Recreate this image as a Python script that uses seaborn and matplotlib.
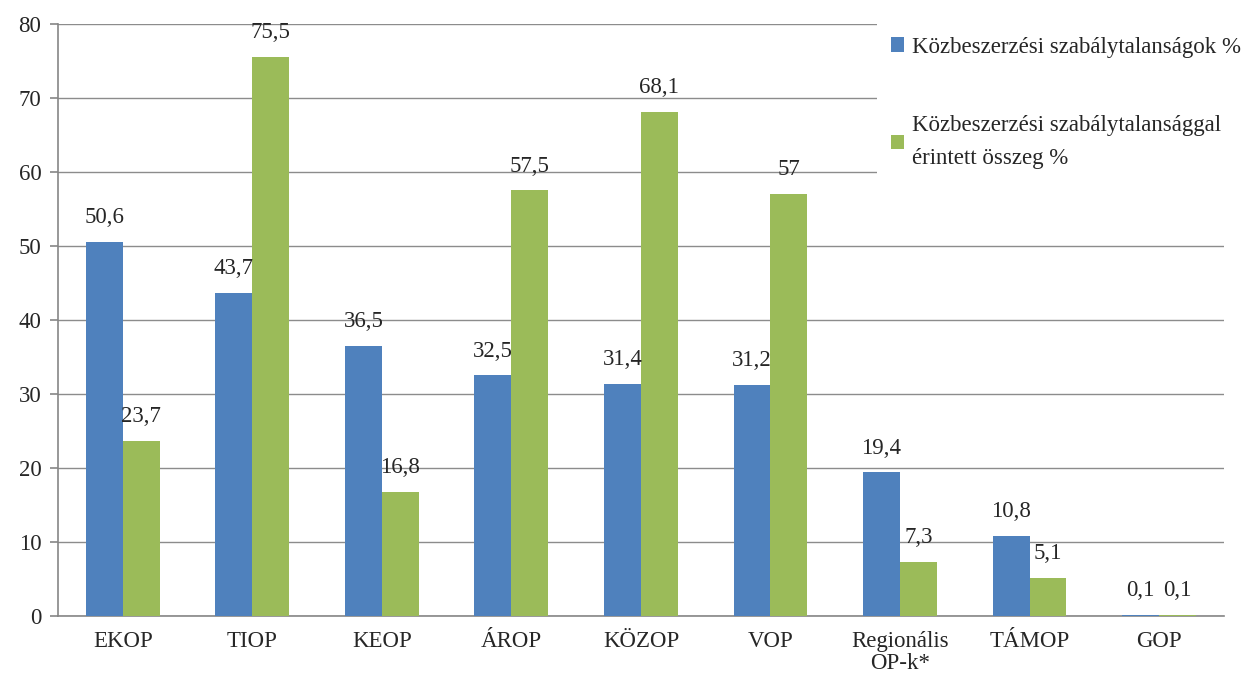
import pandas as pd
import matplotlib.pyplot as plt
import seaborn as sns

# Adatok
kategoriak = ['EKOP', 'TIOP', 'KEOP', 'ÁROP', 'KÖZOP', 'VOP', 'Regionális\nOP-k*', 'TÁMOP', 'GOP']
szabalytalansag = [50.6, 43.7, 36.5, 32.5, 31.4, 31.2, 19.4, 10.8, 0.1]
osszeg = [23.7, 75.5, 16.8, 57.5, 68.1, 57.0, 7.3, 5.1, 0.1]
sorozatok = ['Közbeszerzési szabálytalanságok %',
             'Közbeszerzési szabálytalansággal\nérintett összeg %']

data = pd.DataFrame({
    'kategoria': kategoriak * 2,
    'ertek': szabalytalansag + osszeg,
    'sorozat': [sorozatok[0]] * len(kategoriak) + [sorozatok[1]] * len(kategoriak),
})

sns.set_style('white')
plt.rcParams['font.family'] = ['Liberation Serif', 'DejaVu Serif']
fs = 16.5

fig = plt.figure(figsize=(12.45, 6.76), dpi=100)
ax = fig.add_axes([0.0466, 0.0888, 0.9364, 0.8757])

sns.barplot(data=data, x='kategoria', y='ertek', hue='sorozat', ax=ax,
            palette=['#4F81BD', '#9BBB59'], width=0.57, gap=0, saturation=1,
            errorbar=None, linewidth=0, zorder=3)

# Címkék vesszővel
for cont in ax.containers:
    labels = [('%g' % v).replace('.', ',') for v in cont.datavalues]
    ax.bar_label(cont, labels=labels, padding=10, fontsize=fs, zorder=4)

ax.set_xlim(-0.5, len(kategoriak) - 0.5)
ax.set_ylim(0, 80)
ax.set_yticks(range(0, 81, 10))
ax.set_xlabel('')
ax.set_ylabel('')

ax.yaxis.grid(True, color='#8c8c8c', linewidth=1, zorder=0)
ax.set_axisbelow(True)
for s in ['top', 'right']:
    ax.spines[s].set_visible(False)
for s in ['left', 'bottom']:
    ax.spines[s].set_color('#868686')
    ax.spines[s].set_linewidth(1.2)

ax.set_xticks([i - 0.5 for i in range(len(kategoriak) + 1)], minor=True)
ax.tick_params(axis='x', which='major', length=0, labelsize=fs, pad=11)
ax.tick_params(axis='x', which='minor', length=6, color='#868686', width=1.2, direction='out')
ax.tick_params(axis='y', length=6, color='#868686', width=1.2, direction='out',
               labelsize=fs, left=True, pad=6)
for t in ax.get_xticklabels():
    t.set_linespacing(1.05)

leg = ax.legend(loc='upper left', bbox_to_anchor=(0.7044, 0.966), bbox_transform=fig.transFigure,
                fontsize=fs, frameon=True, facecolor='white', edgecolor='none',
                framealpha=1, handlelength=0.6, handleheight=0.6, handletextpad=0.35,
                labelspacing=2.5, borderpad=0.6, borderaxespad=0, fancybox=False)
for t in leg.get_texts():
    t.set_linespacing(1.75)
leg.set_zorder(5)

plt.savefig('out.png', dpi=100)
